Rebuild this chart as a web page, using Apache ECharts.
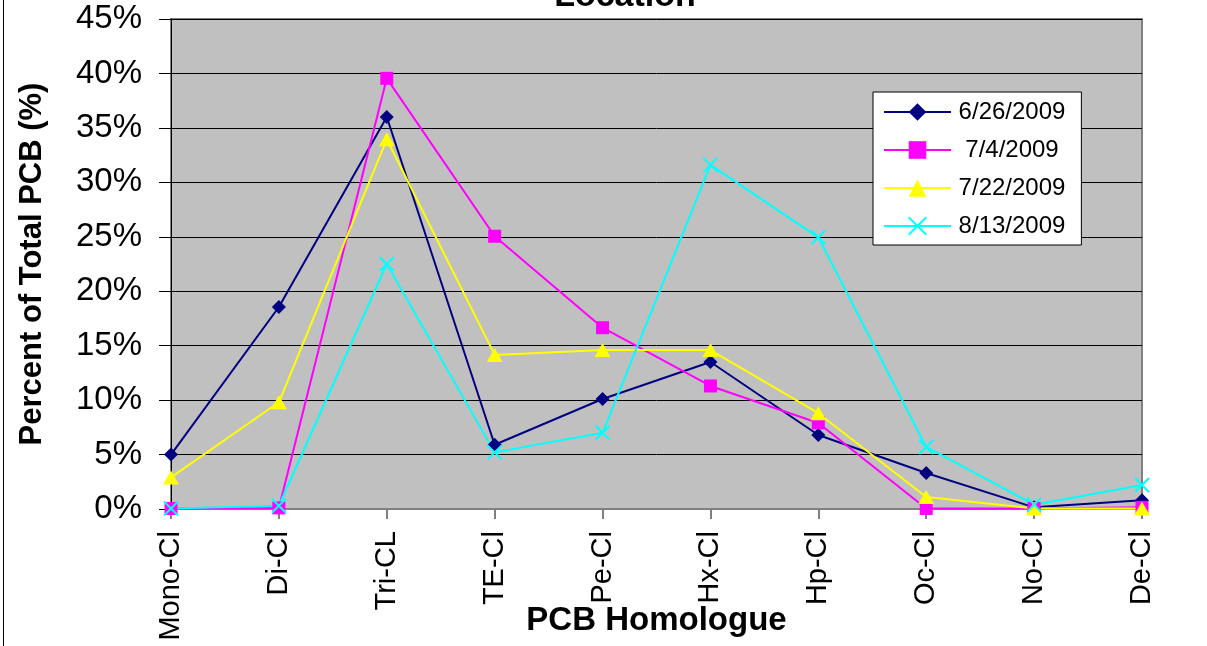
<!DOCTYPE html>
<html>
<head>
<meta charset="utf-8">
<script src="https://cdn.jsdelivr.net/npm/echarts@6/dist/echarts.min.js"></script>
<style>
html,body{margin:0;padding:0;background:#fff;}
#chart{width:1207px;height:646px;}
</style>
</head>
<body>
<div id="chart"></div>
<script>
const categories = ['Mono-Cl','Di-Cl','Tri-CL','TE-Cl','Pe-Cl','Hx-Cl','Hp-Cl','Oc-Cl','No-Cl','De-Cl'];
const seriesNames = ['6/26/2009','7/4/2009','7/22/2009','8/13/2009'];
const s0626 = [5.0, 18.55, 36.0, 5.9, 10.1, 13.5, 6.8, 3.3, 0.15, 0.8];
const s0704 = [0.05, 0.1, 39.55, 25.05, 16.65, 11.3, 7.9, 0.05, 0.05, 0.15];
const s0722 = [2.9, 9.8, 33.95, 14.15, 14.6, 14.6, 8.8, 1.1, 0.05, 0.05];
const s0813 = [0.05, 0.3, 22.5, 5.2, 7.0, 31.6, 24.95, 5.7, 0.4, 2.2];
const yTicks = [0, 5, 10, 15, 20, 25, 30, 35, 40, 45];

const FONT = '"Liberation Sans", Arial, sans-serif';
const colors = ['#000080', '#FF00FF', '#FFFF00', '#00FFFF'];
const symbols = ['diamond', 'rect', 'triangle', 'path://M0,0L10,10M10,0L0,10'];
const sizes = [[14,14], [13,13], [16,14], [14,14]];
const datas = [s0626, s0704, s0722, s0813];

const chart = echarts.init(document.getElementById('chart'));
const series = seriesNames.map((name, i) => ({
  name: name,
  type: 'line',
  data: datas[i],
  symbol: symbols[i],
  symbolSize: sizes[i],
  showAllSymbol: true,
  lineStyle: { color: colors[i], width: 2 },
  itemStyle: i === 3
    ? { color: colors[i], borderColor: colors[i], borderWidth: 2 }
    : { color: colors[i], borderWidth: 0 },
  emphasis: { disabled: true },
  animation: false
}));

chart.setOption({
  animation: false,
  title: {
    text: 'Location',
    left: 620,
    textAlign: 'center',
    top: -25,
    textStyle: { fontFamily: FONT, fontWeight: 'bold', fontSize: 34, color: '#000' }
  },
  grid: {
    left: 171, top: 19, right: 65, bottom: 137,
    containLabel: false,
    outerBoundsMode: 'none',
    show: true, backgroundColor: '#C0C0C0', borderColor: '#808080', borderWidth: 2
  },
  legend: {
    orient: 'vertical',
    left: 873, top: 92,
    padding: [8, 16, 7, 10],
    itemWidth: 67, itemHeight: 22, itemGap: 14,
    backgroundColor: '#fff', borderColor: '#000', borderWidth: 1,
    formatter: name => '{c|' + name + '}',
    textStyle: {
      fontFamily: FONT, fontSize: 24, color: '#000',
      rich: { c: { fontFamily: FONT, fontSize: 24, color: '#000', width: 112, align: 'center' } }
    },
    data: seriesNames
  },
  xAxis: {
    type: 'category',
    data: categories,
    boundaryGap: false,
    name: 'PCB Homologue',
    nameLocation: 'middle',
    nameGap: 95,
    nameMoveOverlap: false,
    nameTextStyle: { fontFamily: FONT, fontWeight: 'bold', fontSize: 33, color: '#000' },
    axisLine: { lineStyle: { color: '#808080', width: 2 } },
    axisTick: { alignWithLabel: true, length: 10, lineStyle: { color: '#808080', width: 2 } },
    axisLabel: { rotate: 90, margin: 22, fontFamily: FONT, fontSize: 29, color: '#000', interval: 0 },
    splitLine: { show: false }
  },
  yAxis: {
    type: 'value',
    min: yTicks[0], max: yTicks[yTicks.length - 1], interval: 5,
    name: 'Percent of Total PCB (%)',
    nameLocation: 'middle',
    nameGap: 123,
    nameMoveOverlap: false,
    nameTextStyle: { fontFamily: FONT, fontWeight: 'bold', fontSize: 31, color: '#000' },
    axisLine: { show: true, lineStyle: { color: '#000', width: 1 } },
    axisTick: { show: true, length: 12, lineStyle: { color: '#000', width: 1 } },
    axisLabel: { formatter: v => v + '%', margin: 29, fontFamily: FONT, fontSize: 33, color: '#000' },
    splitLine: { show: true, lineStyle: { color: '#000', width: 1 } }
  },
  graphic: [{
    type: 'line',
    shape: { x1: 3.5, y1: 0, x2: 3.5, y2: 646 },
    style: { stroke: '#000', lineWidth: 1 },
    silent: true
  }],
  series: series
});
</script>
</body>
</html>
